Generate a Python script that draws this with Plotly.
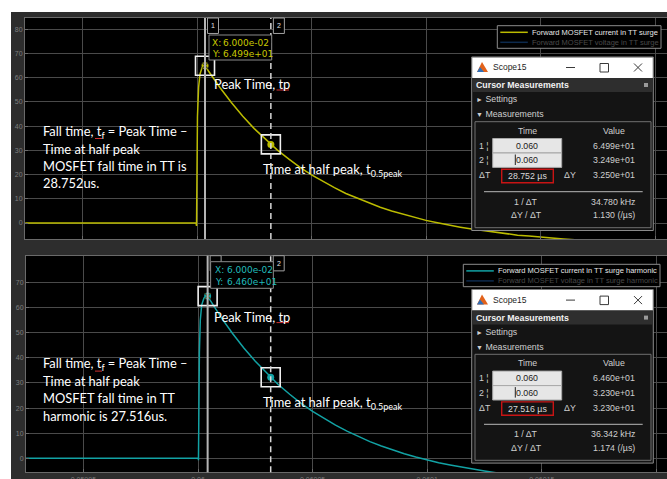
import plotly.graph_objects as go

W, H = 667, 479
T0 = 0.06  # s, instant the time offsets below are measured from

# Forward MOSFET current, TT surge (time offset in microseconds, current in A)
surge_t_us = [-75, -0.4, -0.2, -0.1, 0.2, 0.7, 1.3, 2.2, 3.5, 5, 10, 15, 20, 25, 30,
              32.252, 35, 40, 45, 50, 55, 60, 65, 70, 75, 80, 85, 90, 95, 100,
              105, 110, 115, 120, 125, 130, 135, 140, 145, 150, 155, 160, 165, 170,
              180, 195, 210]
surge_i = [0, 0, -1.2, 22, 44, 56, 61.5, 64.2, 64.99, 62.8, 56.0, 49.8, 44.1, 39.0, 34.4,
           32.49, 30.2, 26.5, 23.0, 19.9, 17.1, 14.6, 12.2, 10.2, 8.3, 6.5, 5.0, 3.6, 2.3, 1.1,
           0.1, -0.9, -1.7, -2.5, -3.2, -3.8, -4.4, -5.0, -5.4, -5.9, -6.2, -6.6, -6.9, -7.2,
           -7.7, -8.3, -8.7]

# Forward MOSFET current, TT surge harmonic
harm_t_us = [-75, -0.2, 0.1, 0.2, 0.35, 0.6, 1.0, 1.6, 2.6, 4.2, 5, 10, 15, 20, 25, 30,
             31.716, 35, 40, 45, 50, 55, 60, 65, 70, 75, 80, 85, 90, 95, 100,
             105, 110, 115, 120, 125, 130, 135, 140, 150, 165, 180]
harm_i = [0, 0, 0, -0.8, 20, 42, 55, 61, 63.8, 64.60, 63.4, 56.2, 49.8, 43.9, 38.6, 33.8,
          32.30, 29.4, 25.5, 21.9, 18.7, 15.8, 13.2, 10.8, 8.6, 6.6, 4.9, 3.3, 1.8, 0.5, -0.7,
          -1.8, -2.7, -3.6, -4.4, -5.1, -5.8, -6.4, -6.9, -7.8, -8.9, -9.7]

# cursor 1 (peak) and cursor 2 (half peak), microseconds after T0
surge_cursors_us = [3.5, 32.252]
harm_cursors_us = [4.2, 31.716]

x_tick_vals = [0.05995, 0.06, 0.06005, 0.0601, 0.06015, 0.0602]
x_tick_text = ["0.05995", "0.06", "0.06005", "0.0601", "0.06015", "0.0602"]
surge_y_ticks = [0, 10, 20, 30, 40, 50, 60, 70, 80]
harm_y_ticks = [0, 10, 20, 30, 40, 50, 60, 70]

surge_legend = ["Forward MOSFET current in TT surge", "Forward MOSFET voltage in TT surge"]
harm_legend = ["Forward MOSFET current in TT surge harmonic",
               "Forward MOSFET voltage in TT surge harmonic"]

YELLOW = "#bcbc00"
YELLOW_TXT = "#c8c800"
TEAL = "#12a2a4"
TEAL_TXT = "#20bcbc"
VOLT = "#0d2a4d"
GRID = "#4a4a4a"
FRAME = "#6a6a6a"
TICK = "#7e7e7e"
UI = "Liberation Sans"
TIP = "DejaVu Sans"
NOTE = "Lato"
NOTE_SIZE = 12.9

shapes, annotations = [], []


def sec(us_list):
    return [T0 + u * 1e-6 for u in us_list]


def P(x, y):
    return x / W, 1 - y / H


def rect(x0, y0, x1, y1, fill=None, line=None, width=1):
    a, b = P(x0, y0)
    c, d = P(x1, y1)
    shapes.append(dict(type="rect", xref="paper", yref="paper", x0=a, x1=c, y0=d, y1=b,
                       fillcolor=fill or "rgba(0,0,0,0)",
                       line=dict(color=line or "rgba(0,0,0,0)", width=width if line else 0),
                       layer="above"))


def seg(x0, y0, x1, y1, color, width=1):
    a, b = P(x0, y0)
    c, d = P(x1, y1)
    shapes.append(dict(type="line", xref="paper", yref="paper", x0=a, y0=b, x1=c, y1=d,
                       line=dict(color=color, width=width), layer="above"))


def text(x, y, s, size=9, color="#d0d0d0", anchor="left", family=UI, bold=False):
    if bold:
        s = f"<b>{s}</b>"
    a, b = P(x, y)
    annotations.append(dict(x=a, y=b, xref="paper", yref="paper", text=s, showarrow=False,
                            xanchor=anchor, yanchor="middle", borderpad=0,
                            font=dict(size=size, color=color, family=family)))


fig = go.Figure()

# white border of the captured window
rect(0, 0, W, 12, fill="#ffffff")
rect(0, 0, 11, H, fill="#ffffff")

panels = [
    dict(t=surge_t_us, v=surge_i, cur=surge_cursors_us, col=YELLOW, tcol=YELLOW_TXT,
         xa="x", ya="y", dy=0, legend=surge_legend, lg=(497.3, 25.7, 661, 48.3),
         tip=dict(box=(4, 66.7, 35, 60), lab=5, num=16, rows=(43, 53.5), size=9),
         tag1_text=True,
         note=["MOSFET fall time in TT is", "{dt:.3f}us."]),
    dict(t=harm_t_us, v=harm_i, cur=harm_cursors_us, col=TEAL, tcol=TEAL_TXT,
         xa="x2", ya="y2", dy=232.6, legend=harm_legend, lg=(463.3, 264.3, 660, 286.7),
         tip=dict(box=(3, 65.7, 261.7, 288.3), lab=5.5, num=17, rows=(270, 282.3), size=9),
         tag1_text=False,
         note=["MOSFET fall time in TT", "harmonic is {dt:.3f}us."]),
]

for pn in panels:
    t_us, vals, (c1, c2), dy = pn["t"], pn["v"], pn["cur"], pn["dy"]
    y1 = vals[t_us.index(c1)]
    y2 = vals[t_us.index(c2)]
    dt = c2 - c1
    dY = y1 - y2
    xa, ya = pn["xa"], pn["ya"]
    ydom = "y domain" if ya == "y" else ya + " domain"
    tc1, tc2 = T0 + c1 * 1e-6, T0 + c2 * 1e-6

    fig.add_trace(go.Scatter(x=sec(t_us), y=vals, mode="lines", xaxis=xa, yaxis=ya,
                             line=dict(color=pn["col"], width=1.5), hoverinfo="skip"))

    # cursor lines
    shapes.append(dict(type="line", xref=xa, yref=ydom, x0=tc1, x1=tc1, y0=0, y1=1,
                       line=dict(color="#b4b4b4", width=2), layer="above"))
    shapes.append(dict(type="line", xref=xa, yref=ydom, x0=tc2, x1=tc2, y0=0, y1=1,
                       line=dict(color="#d8d8d8", width=1.5, dash="6px,4px"), layer="above"))
    # cursor number tags
    for k, c in enumerate((tc1, tc2)):
        shapes.append(dict(type="rect", xref=xa, yref=ydom, xsizemode="pixel",
                           xanchor=c, x0=2.5, x1=13.5, y0=0.93, y1=1,
                           fillcolor="#000000", line=dict(color="#a0a0a0", width=1),
                           layer="above"))
        if k == 1 or pn["tag1_text"]:
            annotations.append(dict(x=c, xref=xa, yref=ydom, y=0.965, xshift=8,
                                    text=str(k + 1), showarrow=False, xanchor="center",
                                    yanchor="middle",
                                    font=dict(size=7, color="#e0e0e0", family=UI)))

    # data tip at the peak
    tp = pn["tip"]
    bx0, bx1, by0, by1 = tp["box"]
    shapes.append(dict(type="rect", xref=xa, yref="paper", xsizemode="pixel",
                       xanchor=tc1, x0=bx0, x1=bx1, y0=P(0, by1)[1], y1=P(0, by0)[1],
                       fillcolor="#000000", line=dict(color="#8a8a8a", width=1), layer="above"))
    for lab, num, ty in (("X:", f"{tc1:.3e}", tp["rows"][0]), ("Y:", f"{y1:.3e}", tp["rows"][1])):
        for s, shift in ((lab, tp["lab"]), (num, tp["num"])):
            annotations.append(dict(x=tc1, xref=xa, yref="paper", y=P(0, ty)[1], xshift=shift,
                                    text=s, showarrow=False, xanchor="left", yanchor="middle",
                                    font=dict(size=tp["size"], color=pn["tcol"], family=TIP)))

    # cursor markers
    fig.add_trace(go.Scatter(x=[tc1, tc2], y=[y1, y2], mode="markers", xaxis=xa, yaxis=ya,
                             marker=dict(symbol="square-open", size=19, color="#f0f0f0",
                                         line=dict(width=1.6, color="#f0f0f0")),
                             hoverinfo="skip", cliponaxis=False))
    fig.add_trace(go.Scatter(x=[tc1, tc2], y=[y1, y2], mode="markers", xaxis=xa, yaxis=ya,
                             marker=dict(symbol="circle", size=7, color=pn["col"]),
                             hoverinfo="skip", cliponaxis=False))
    fig.add_trace(go.Scatter(x=[tc1], y=[y1], mode="markers", xaxis=xa, yaxis=ya,
                             marker=dict(symbol="x-thin-open", size=6, color="#4a4a20",
                                         line=dict(width=1.2, color="#4a4a20")),
                             hoverinfo="skip", cliponaxis=False))

    # explanatory notes
    note = ["Fall time, t<sub>f</sub> = Peak Time –", "Time at half peak",
            pn["note"][0], pn["note"][1].format(dt=dt)]
    for k, line in enumerate(note):
        text(41.7, 131.7 + dy + k * 17.1, line, NOTE_SIZE, "#ffffff", family=NOTE)
    seg(95, 138.5 + dy, 102, 138.5 + dy, "#d03030", 1)
    text(213, 84 + dy, "Peak Time, tp", NOTE_SIZE, "#ffffff", family=NOTE)
    seg(276.5, 90 + dy, 289, 90 + dy, "#d03030", 1)
    text(261.5, 170 + dy, "Time at half peak, t<sub>0.5peak</sub>", NOTE_SIZE, "#ffffff",
         family=NOTE)

    # legend box
    lx0, ly0, lx1, ly1 = pn["lg"]
    rect(lx0, ly0, lx1, ly1, fill="#000000", line="#8c8c8c")
    seg(lx0 + 3, ly0 + 6.6, lx0 + 30.5, ly0 + 6.6, pn["col"], 1.5)
    text(lx0 + 33.5, ly0 + 6.6, pn["legend"][0], 7.5, "#e6e6e6")
    seg(lx0 + 3, ly0 + 16.6, lx0 + 30.5, ly0 + 16.6, VOLT, 1.5)
    text(lx0 + 33.5, ly0 + 16.6, pn["legend"][1], 7.5, "#4a4a4a")

    # cursor measurement window
    L, R = 471.7, 653.3
    rect(L, 57 + dy, R, 230.5 + dy, fill="#141414", line="#8a8a8a")
    rect(L + 0.5, 57.5 + dy, R - 0.5, 78 + dy, fill="#ffffff")
    shapes.append(dict(type="path", xref="paper", yref="paper", layer="above",
                       path="M {} {} L {} {} L {} {} Z".format(*P(477, 72 + dy), *P(482, 62 + dy),
                                                              *P(488, 72 + dy)),
                       fillcolor="#e2621b", line=dict(width=0)))
    shapes.append(dict(type="path", xref="paper", yref="paper", layer="above",
                       path="M {} {} L {} {} L {} {} Z".format(*P(477, 72 + dy), *P(480, 67 + dy),
                                                              *P(484, 72 + dy)),
                       fillcolor="#2f6fb8", line=dict(width=0)))
    text(491.5, 67.5 + dy, "Scope15", 8.5, "#1e1e1e")
    seg(566, 67.5 + dy, 575, 67.5 + dy, "#3a3a3a", 1)
    rect(600, 63.5 + dy, 608.5, 72 + dy, line="#3a3a3a")
    seg(634, 63.5 + dy, 642, 71.5 + dy, "#3a3a3a", 1)
    seg(634, 71.5 + dy, 642, 63.5 + dy, "#3a3a3a", 1)
    rect(L + 0.5, 78 + dy, R - 0.5, 92 + dy, fill="#2e2e2e")
    text(475, 85 + dy, "Cursor Measurements", 8.8, "#f2f2f2", bold=True)
    rect(644, 83 + dy, 648, 87 + dy, fill="#9a9a9a")
    text(475, 99.3 + dy, "<span style='font-size:7px'>►</span> Settings", 8.8, "#cfcfcf")
    text(475, 114.3 + dy, "<span style='font-size:7px'>▼</span> Measurements", 8.8, "#cfcfcf")
    rect(475, 121.7 + dy, 651, 227.7 + dy, line="#707070")
    text(527, 130.5 + dy, "Time", 8.8, "#cfcfcf", anchor="center")
    text(613.5, 130.5 + dy, "Value", 8.8, "#cfcfcf", anchor="center")
    for k, (c, v) in enumerate(((tc1, y1), (tc2, y2))):
        yy = 145.7 + dy + k * 14.5
        text(477.5, yy, f"{k + 1} ¦", 8.8, "#cfcfcf")
        rect(492.7, yy - 7.2, 561.7, yy + 7.2, fill="#e6e6e6", line="#a8a8a8")
        text(527, yy, f"{c:.3f}", 8.8, "#202020", anchor="center")
        text(613.5, yy, f"{v:.3e}", 8.8, "#cfcfcf", anchor="center")
    seg(515.3, 154.5 + dy, 515.3, 165 + dy, "#202020", 1)
    text(478, 175.5 + dy, "ΔT", 8.8, "#cfcfcf")
    rect(501.7, 169.3 + dy, 553.3, 182.7 + dy, line="#c81414", width=1.4)
    text(527.5, 176 + dy, f"{dt:.3f} µs", 8.8, "#d8d8d8", anchor="center")
    text(570, 175.5 + dy, "ΔY", 8.8, "#cfcfcf", anchor="center")
    text(613.5, 175.5 + dy, f"{dY:.3e}", 8.8, "#cfcfcf", anchor="center")
    seg(484, 191.7 + dy, 642.7, 191.7 + dy, "#b8b8b8", 1)
    text(526, 201.7 + dy, "1 / ΔT", 8.8, "#cfcfcf", anchor="center")
    text(613.5, 201.7 + dy, f"{1000 / dt:.3f} kHz", 8.8, "#cfcfcf", anchor="center")
    text(526, 215 + dy, "ΔY / ΔT", 8.8, "#cfcfcf", anchor="center")
    text(613.5, 215 + dy, f"{dY / dt:.3f} (/µs)", 8.8, "#cfcfcf", anchor="center")

axis_common = dict(showgrid=True, gridcolor=GRID, gridwidth=1, zeroline=False, showline=True,
                   linecolor=FRAME, mirror=True, ticks="inside", ticklen=3, tickcolor=FRAME,
                   automargin=False, fixedrange=True)

fig.update_layout(
    width=W, height=H, template="none",
    margin=dict(l=0, r=0, t=0, b=0),
    paper_bgcolor="#2d2d2d", plot_bgcolor="#000000",
    showlegend=False,
    xaxis=dict(domain=[25 / W, 1], anchor="y",
               range=[T0 - 172 / 114.5 * 5e-5, T0 + 470 / 114.5 * 5e-5],
               tickvals=x_tick_vals, showticklabels=False, **axis_common),
    yaxis=dict(domain=[1 - 239 / H, 1 - 18 / H], anchor="x", range=[-6.6, 84.7],
               tickvals=surge_y_ticks, tickfont=dict(size=7, color=TICK, family=UI),
               **axis_common),
    xaxis2=dict(domain=[26 / W, 1], anchor="y2",
                range=[T0 - 172 / 114.6 * 5e-5, T0 + 469 / 114.6 * 5e-5],
                tickvals=x_tick_vals, ticktext=x_tick_text,
                tickfont=dict(size=7, color=TICK, family=UI), **axis_common),
    yaxis2=dict(domain=[1 - 472.3 / H, 1 - 255.7 / H], anchor="x2", range=[-5.6, 80.7],
                tickvals=harm_y_ticks, tickfont=dict(size=7, color=TICK, family=UI),
                **axis_common),
    shapes=shapes,
    annotations=annotations,
)

fig.write_html("out.html")
